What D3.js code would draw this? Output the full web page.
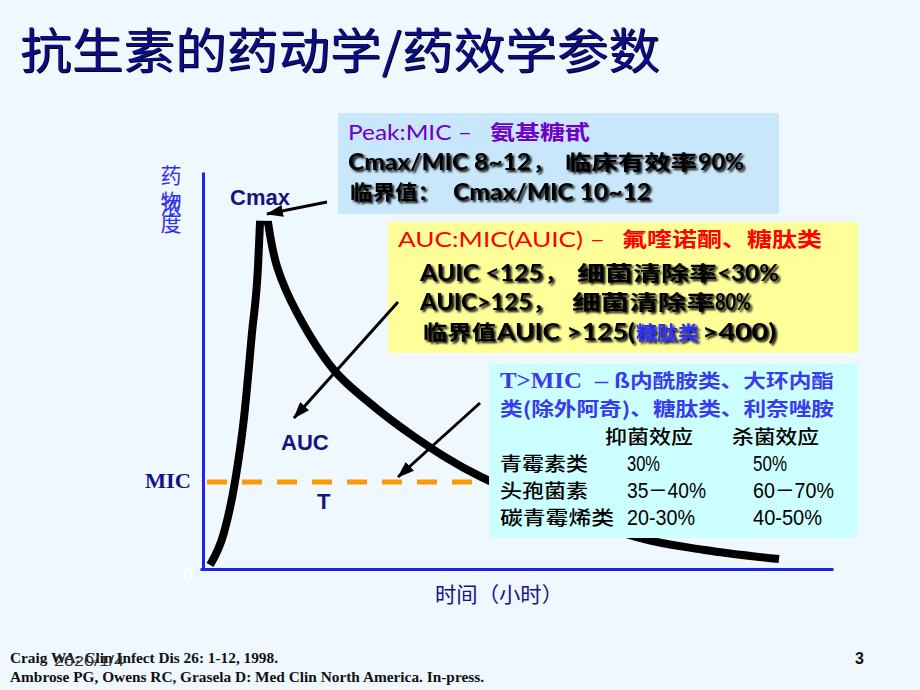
<!DOCTYPE html>
<html><head><meta charset="utf-8">
<script src="https://cdn.jsdelivr.net/npm/d3@7"></script>
<style>
html,body{margin:0;padding:0;background:#EFF7FF;}
svg{display:block;}
</style></head><body>
<svg id="c" width="920" height="690"></svg>
<script>
// ---------- data ----------
const title = "抗生素的药动学/药效学参数";
const timeH = [0.23, 0.76, 1.18, 1.53, 1.83, 2.06, 2.14, 2.44, 2.79, 3.55, 4.96, 6.18, 8.05, 10.57, 16.48, 19.11, 21.94];
const conc  = [1.0, 9.1, 21.9, 38.3, 59.4, 76.1, 87.7, 87.4, 76.1, 64.5, 50.1, 42.6, 33.2, 23.2, 8.1, 4.8, 2.5];
const peakIndex = 6;
const micLevel = 21.9;
const xDomain = [0, 24];
const yDomain = [0, 100];
const yLabelChars = ["药", "物", "浓", "度"];
const xLabel = "时间（小时）";
const tableHeaders = ["抑菌效应", "杀菌效应"];
const drugClasses = ["青霉素类", "头孢菌素", "碳青霉烯类"];
const bacteriostatic = ["30%", "35－40%", "20-30%"];
const bactericidal = ["50%", "60－70%", "40-50%"];
const refs = ["Craig WA: Clin Infect Dis 26: 1-12, 1998.",
              "Ambrose PG, Owens RC, Grasela D: Med Clin North America. In-press."];
const dateText = "2020/1/4";
const pageNo = "3";

// ---------- setup ----------
const svg = d3.select("#c");
svg.append("rect").attr("width", 920).attr("height", 690).attr("fill", "#EFF7FF");
const defs = svg.append("defs");
function shadow(id, sd, dx) {
  const f = defs.append("filter").attr("id", id).attr("x", "-10%").attr("y", "-40%").attr("width", "120%").attr("height", "180%");
  f.append("feGaussianBlur").attr("in", "SourceAlpha").attr("stdDeviation", sd).attr("result", "b");
  f.append("feOffset").attr("in", "b").attr("dx", dx).attr("dy", dx).attr("result", "o");
  const m = f.append("feMerge");
  m.append("feMergeNode").attr("in", "o");
  m.append("feMergeNode").attr("in", "SourceGraphic");
}
shadow("sh", 1.3, 1.5);
shadow("tsh", 0.5, 1.2);
defs.append("marker").attr("id", "ah").attr("markerUnits", "userSpaceOnUse")
  .attr("markerWidth", 17).attr("markerHeight", 12).attr("refX", 16).attr("refY", 6)
  .attr("orient", "auto")
  .append("path").attr("d", "M0,0L17,6L0,12Z").attr("fill", "#000");

const CJK = "'Noto Sans CJK SC'";
const LAT = "Lato, 'Noto Sans CJK SC'";
const SERIF = "'Liberation Serif', 'Noto Sans CJK SC'";
const SANS = "'Liberation Sans', Arial, 'Noto Sans CJK SC'";

function seg(str, x0, x1, yb, o) {
  const t = svg.append("text").attr("x", x0).attr("y", yb).text(str)
    .attr("font-family", o.ff).attr("font-size", o.fs)
    .attr("font-weight", o.fw || "bold").attr("fill", o.fill || "#000");
  if (x1 != null) t.attr("textLength", x1 - x0).attr("lengthAdjust", o.la || "spacingAndGlyphs");
  if (o.filter) t.attr("filter", "url(#" + o.filter + ")");
  return t;
}

// ---------- title ----------
seg(title, 20, 660, 68, {ff: CJK, fs: 48, fw: "normal", fill: "#0A0A82", filter: "tsh"});

// ---------- scales & axes ----------
const x = d3.scaleLinear().domain(xDomain).range([204, 833]);
const y = d3.scaleLinear().domain(yDomain).range([569, 172]);

const axisColor = "#2222EE";
const yAx = svg.append("g").attr("transform", `translate(${x(0) - 1},0)`)
  .call(d3.axisLeft(y).tickValues([]).tickSizeOuter(0));
yAx.select(".domain").attr("stroke", axisColor).attr("stroke-width", 3);
const xAx = svg.append("g").attr("transform", `translate(0,${y(0)})`)
  .call(d3.axisBottom(d3.scaleLinear().domain(xDomain).range([x(0) - 4, x(24)])).tickValues([]).tickSizeOuter(0));
xAx.select(".domain").attr("stroke", axisColor).attr("stroke-width", 3);

// y label (overlapping vertical characters, as in the original)
const yLabPos = [183, 209, 214, 231];
yLabelChars.forEach((ch, i) => {
  svg.append("text").attr("x", 171).attr("y", yLabPos[i]).attr("text-anchor", "middle")
    .attr("font-family", CJK).attr("font-size", 21).attr("fill", "#3030F5").text(ch);
});
// x label
seg(xLabel, 435, 563, 602, {ff: CJK, fs: 21, fw: "normal", fill: "#15157E"});

// zero label
seg("0", 183, null, 582, {ff: SERIF, fs: 20, fill: "#FFFFFF"});

// MIC dashed line
svg.append("line").attr("x1", x(0) + 3).attr("x2", x(24)).attr("y1", y(micLevel)).attr("y2", y(micLevel))
  .attr("stroke", "#FF9900").attr("stroke-width", 5).attr("stroke-dasharray", "20,15");

// curve: rising limb and decaying limb
const pts = timeH.map((t, i) => ({t, c: conc[i]}));
const riseGen = d3.line().x(d => x(d.t)).y(d => y(d.c)).curve(d3.curveMonotoneX);
const decayGen = d3.line().x(d => x(d.t)).y(d => y(d.c)).curve(d3.curveCatmullRom.alpha(0.5));
[[pts.slice(0, peakIndex + 1), riseGen], [pts.slice(peakIndex + 1), decayGen]].forEach(([seq, gen]) => {
  svg.append("path").datum(seq).attr("d", gen)
    .attr("fill", "none").attr("stroke", "#000").attr("stroke-width", 8)
    .attr("stroke-linejoin", "miter").attr("stroke-linecap", "butt");
});
// cap joining the two limbs at the peak
svg.append("line").attr("x1", x(timeH[peakIndex]) - 4).attr("x2", x(timeH[peakIndex + 1]) + 4)
  .attr("y1", y(conc[peakIndex]) + 2).attr("y2", y(conc[peakIndex]) + 2)
  .attr("stroke", "#000").attr("stroke-width", 4);

// chart labels
const navy = "#14147E";
seg("Cmax", 230, null, 205, {ff: SANS, fs: 22, fill: navy});
seg("AUC", 281, null, 450, {ff: SANS, fs: 22, fill: navy});
seg("T", 317, null, 509, {ff: SANS, fs: 22, fill: navy});
seg("MIC", 145, 191, y(micLevel) + 6, {ff: SERIF, fs: 22, fill: navy});

// ---------- boxes ----------
svg.append("rect").attr("x", 338).attr("y", 113).attr("width", 441).attr("height", 101).attr("fill", "#C9E7FB");
svg.append("rect").attr("x", 388).attr("y", 222).attr("width", 470).attr("height", 131).attr("fill", "#FFFF99");
svg.append("rect").attr("x", 489).attr("y", 364).attr("width", 369).attr("height", 174).attr("fill", "#CCFFFF");

// Peak box
const purple = "#6E00C8";
seg("Peak:MIC –", 348, 472, 140, {ff: LAT, fs: 22, fw: "normal", fill: purple});
seg("氨基糖甙", 490, 590, 140, {ff: CJK, fs: 20, fw: "bold", fill: purple});
seg("Cmax/MIC 8~12", 348, 531, 170, {ff: LAT, fs: 23, filter: "sh"});
seg("，", 533, null, 170, {ff: CJK, fs: 20, filter: "sh"});
seg("临床有效率", 565, 697, 170, {ff: CJK, fs: 20, filter: "sh"});
seg("90%", 698, 744, 170, {ff: LAT, fs: 23, filter: "sh"});
seg("临界值：", 350, 440, 200, {ff: CJK, fs: 20, filter: "sh"});
seg("Cmax/MIC 10~12", 453, 651, 200, {ff: LAT, fs: 23, filter: "sh"});

// AUC box
seg("AUC:MIC(AUIC) –", 398, 605, 247, {ff: LAT, fs: 22, fw: "normal", fill: "#FF0000"});
seg("氟喹诺酮、糖肽类", 622, 822, 247, {ff: CJK, fs: 20, fw: "bold", fill: "#FF0000"});
seg("AUIC <125", 420, 543, 281, {ff: LAT, fs: 23, filter: "sh"});
seg("，", 545, null, 281, {ff: CJK, fs: 20, filter: "sh"});
seg("细菌清除率", 577, 717, 281, {ff: CJK, fs: 20, filter: "sh"});
seg("<30%", 717, 779, 281, {ff: LAT, fs: 23, filter: "sh"});
seg("AUIC>125", 420, 532, 310, {ff: LAT, fs: 23, filter: "sh"});
seg("，", 533, null, 310, {ff: CJK, fs: 20, filter: "sh"});
seg("细菌清除率", 572, 715, 310, {ff: CJK, fs: 20, filter: "sh"});
seg("80%", 715, 751, 310, {ff: LAT, fs: 23, filter: "sh"});
seg("临界值", 423, 496, 340, {ff: CJK, fs: 20, filter: "sh"});
seg("AUIC >125(", 497, 635, 340, {ff: LAT, fs: 23, filter: "sh"});
seg("糖肽类", 636, 699, 340, {ff: CJK, fs: 19, fill: "#2E2EFF", filter: "sh"});
seg(">400)", 702, 776, 340, {ff: LAT, fs: 23, filter: "sh"});

// T>MIC box
const blue = "#3A3AF0";
seg("T>MIC", 500, 582, 388, {ff: SERIF, fs: 24, fill: blue});
seg("–", 595, 608, 388, {ff: SERIF, fs: 22, fill: blue});
seg("ß内酰胺类、大环内酯", 614, 834, 388, {ff: CJK, fs: 19, fill: blue});
seg("类(除外阿奇)、糖肽类、利奈唑胺", 500, 834, 416, {ff: CJK, fs: 19, fill: blue});
const colX = [627, 753];
const colEnd = [[660, 787], [706, 834], [695, 822]];
seg(tableHeaders[0], 605, 693, 444, {ff: CJK, fs: 19, fw: 500});
seg(tableHeaders[1], 732, 819, 444, {ff: CJK, fs: 19, fw: 500});
const rowY = [471, 498, 525];
const labEnd = [588, 588, 614];
drugClasses.forEach((d, i) => {
  seg(d, 500, labEnd[i], rowY[i], {ff: CJK, fs: 19, fw: 500});
  seg(bacteriostatic[i], colX[0], colEnd[i][0], rowY[i], {ff: SANS, fs: 22, fw: "normal"});
  seg(bactericidal[i], colX[1], colEnd[i][1], rowY[i], {ff: SANS, fs: 22, fw: "normal"});
});

// ---------- arrows ----------
function arrow(x1, y1, x2, y2) {
  svg.append("line").attr("x1", x1).attr("y1", y1).attr("x2", x2).attr("y2", y2)
    .attr("stroke", "#000").attr("stroke-width", 3).attr("marker-end", "url(#ah)");
}
arrow(327, 202, 267, 214);
arrow(398, 302, 294, 418);
arrow(480, 403, 398, 477);

// ---------- footer ----------
seg(refs[0], 10, 278, 663, {ff: SERIF, fs: 15, fill: "#111"});
seg(refs[1], 10, 484, 682, {ff: SERIF, fs: 15, fill: "#111"});
seg(dateText, 54, 124, 666, {ff: SANS, fs: 15, fw: "normal", fill: "#333"});
seg(pageNo, 855, null, 664, {ff: SANS, fs: 16, fill: "#111"});
</script>
</body></html>
